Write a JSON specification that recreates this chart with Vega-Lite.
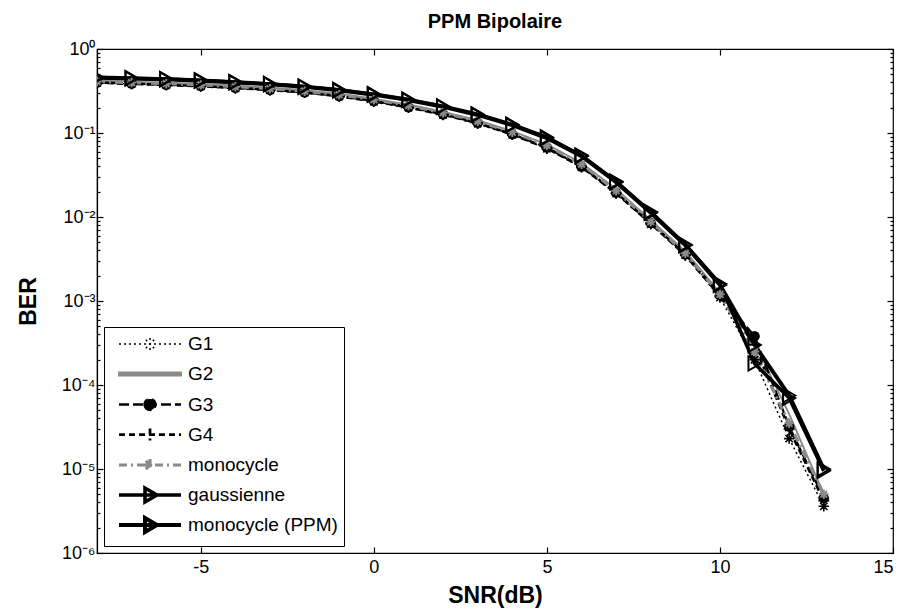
{
  "$schema": "https://vega.github.io/schema/vega-lite/v6.json",
  "width": 796,
  "height": 504,
  "autosize": {"type": "none"},
  "padding": {"left": 97, "top": 49, "right": 11, "bottom": 59},
  "background": "white",
  "title": {"text": "PPM Bipolaire", "fontSize": 20, "font": "Liberation Sans", "fontWeight": "bold", "color": "black", "offset": 8},
  "config": {
    "view": {"stroke": "black", "strokeWidth": 1.2},
    "axis": {"domainColor": "black", "tickColor": "black", "labelColor": "black", "titleColor": "black", "labelFont": "Liberation Sans", "titleFont": "Liberation Sans", "labelFontSize": 18, "titleFontSize": 23, "titleFontWeight": "bold", "grid": false, "tickSize": -6, "tickWidth": 1.2, "domainWidth": 1.2}
  },
  "data": {"values": [
    {"snr": -8, "ber": 0.395, "s": "G1"}, {"snr": -7, "ber": 0.383, "s": "G1"}, {"snr": -6, "ber": 0.372, "s": "G1"}, {"snr": -5, "ber": 0.36, "s": "G1"}, {"snr": -4, "ber": 0.342, "s": "G1"}, {"snr": -3, "ber": 0.323, "s": "G1"}, {"snr": -2, "ber": 0.302, "s": "G1"}, {"snr": -1, "ber": 0.272, "s": "G1"}, {"snr": 0, "ber": 0.236, "s": "G1"}, {"snr": 1, "ber": 0.2, "s": "G1"}, {"snr": 2, "ber": 0.164, "s": "G1"}, {"snr": 3, "ber": 0.129, "s": "G1"}, {"snr": 4, "ber": 0.095, "s": "G1"}, {"snr": 5, "ber": 0.065, "s": "G1"}, {"snr": 6, "ber": 0.039, "s": "G1"}, {"snr": 7, "ber": 0.019, "s": "G1"}, {"snr": 8, "ber": 0.0082, "s": "G1"}, {"snr": 9, "ber": 0.0035, "s": "G1"}, {"snr": 10, "ber": 0.0011, "s": "G1"}, {"snr": 11, "ber": 0.0002, "s": "G1"}, {"snr": 12, "ber": 0.000023, "s": "G1"}, {"snr": 13, "ber": 0.0000036, "s": "G1"},
    {"snr": -8, "ber": 0.42, "s": "G2"}, {"snr": -7, "ber": 0.408, "s": "G2"}, {"snr": -6, "ber": 0.397, "s": "G2"}, {"snr": -5, "ber": 0.384, "s": "G2"}, {"snr": -4, "ber": 0.366, "s": "G2"}, {"snr": -3, "ber": 0.346, "s": "G2"}, {"snr": -2, "ber": 0.324, "s": "G2"}, {"snr": -1, "ber": 0.293, "s": "G2"}, {"snr": 0, "ber": 0.256, "s": "G2"}, {"snr": 1, "ber": 0.218, "s": "G2"}, {"snr": 2, "ber": 0.179, "s": "G2"}, {"snr": 3, "ber": 0.142, "s": "G2"}, {"snr": 4, "ber": 0.105, "s": "G2"}, {"snr": 5, "ber": 0.073, "s": "G2"}, {"snr": 6, "ber": 0.044, "s": "G2"}, {"snr": 7, "ber": 0.0215, "s": "G2"}, {"snr": 8, "ber": 0.0092, "s": "G2"}, {"snr": 9, "ber": 0.0039, "s": "G2"}, {"snr": 10, "ber": 0.00125, "s": "G2"}, {"snr": 11, "ber": 0.00032, "s": "G2"}, {"snr": 12, "ber": 0.000045, "s": "G2"}, {"snr": 13, "ber": 0.000005, "s": "G2"},
    {"snr": -8, "ber": 0.4, "s": "G3"}, {"snr": -7, "ber": 0.387, "s": "G3"}, {"snr": -6, "ber": 0.376, "s": "G3"}, {"snr": -5, "ber": 0.362, "s": "G3"}, {"snr": -4, "ber": 0.345, "s": "G3"}, {"snr": -3, "ber": 0.326, "s": "G3"}, {"snr": -2, "ber": 0.305, "s": "G3"}, {"snr": -1, "ber": 0.275, "s": "G3"}, {"snr": 0, "ber": 0.24, "s": "G3"}, {"snr": 1, "ber": 0.204, "s": "G3"}, {"snr": 2, "ber": 0.167, "s": "G3"}, {"snr": 3, "ber": 0.132, "s": "G3"}, {"snr": 4, "ber": 0.097, "s": "G3"}, {"snr": 5, "ber": 0.067, "s": "G3"}, {"snr": 6, "ber": 0.04, "s": "G3"}, {"snr": 7, "ber": 0.0195, "s": "G3"}, {"snr": 8, "ber": 0.0085, "s": "G3"}, {"snr": 9, "ber": 0.0036, "s": "G3"}, {"snr": 10, "ber": 0.00118, "s": "G3"}, {"snr": 11, "ber": 0.00038, "s": "G3"}, {"snr": 12, "ber": 0.000032, "s": "G3"}, {"snr": 13, "ber": 0.0000045, "s": "G3"},
    {"snr": -8, "ber": 0.398, "s": "G4"}, {"snr": -7, "ber": 0.385, "s": "G4"}, {"snr": -6, "ber": 0.374, "s": "G4"}, {"snr": -5, "ber": 0.361, "s": "G4"}, {"snr": -4, "ber": 0.344, "s": "G4"}, {"snr": -3, "ber": 0.325, "s": "G4"}, {"snr": -2, "ber": 0.304, "s": "G4"}, {"snr": -1, "ber": 0.274, "s": "G4"}, {"snr": 0, "ber": 0.238, "s": "G4"}, {"snr": 1, "ber": 0.202, "s": "G4"}, {"snr": 2, "ber": 0.166, "s": "G4"}, {"snr": 3, "ber": 0.131, "s": "G4"}, {"snr": 4, "ber": 0.096, "s": "G4"}, {"snr": 5, "ber": 0.066, "s": "G4"}, {"snr": 6, "ber": 0.0395, "s": "G4"}, {"snr": 7, "ber": 0.0192, "s": "G4"}, {"snr": 8, "ber": 0.0084, "s": "G4"}, {"snr": 9, "ber": 0.0035, "s": "G4"}, {"snr": 10, "ber": 0.00115, "s": "G4"}, {"snr": 11, "ber": 0.0003, "s": "G4"}, {"snr": 12, "ber": 0.00003, "s": "G4"}, {"snr": 13, "ber": 0.0000042, "s": "G4"},
    {"snr": -8, "ber": 0.41, "s": "monocycle"}, {"snr": -7, "ber": 0.398, "s": "monocycle"}, {"snr": -6, "ber": 0.387, "s": "monocycle"}, {"snr": -5, "ber": 0.374, "s": "monocycle"}, {"snr": -4, "ber": 0.356, "s": "monocycle"}, {"snr": -3, "ber": 0.337, "s": "monocycle"}, {"snr": -2, "ber": 0.315, "s": "monocycle"}, {"snr": -1, "ber": 0.285, "s": "monocycle"}, {"snr": 0, "ber": 0.249, "s": "monocycle"}, {"snr": 1, "ber": 0.212, "s": "monocycle"}, {"snr": 2, "ber": 0.174, "s": "monocycle"}, {"snr": 3, "ber": 0.138, "s": "monocycle"}, {"snr": 4, "ber": 0.102, "s": "monocycle"}, {"snr": 5, "ber": 0.071, "s": "monocycle"}, {"snr": 6, "ber": 0.0425, "s": "monocycle"}, {"snr": 7, "ber": 0.0205, "s": "monocycle"}, {"snr": 8, "ber": 0.0088, "s": "monocycle"}, {"snr": 9, "ber": 0.0037, "s": "monocycle"}, {"snr": 10, "ber": 0.0012, "s": "monocycle"}, {"snr": 11, "ber": 0.00025, "s": "monocycle"}, {"snr": 12, "ber": 0.000035, "s": "monocycle"}, {"snr": 13, "ber": 0.000005, "s": "monocycle"},
    {"snr": -8, "ber": 0.46, "s": "gaussienne"}, {"snr": -7, "ber": 0.45, "s": "gaussienne"}, {"snr": -6, "ber": 0.44, "s": "gaussienne"}, {"snr": -5, "ber": 0.425, "s": "gaussienne"}, {"snr": -4, "ber": 0.405, "s": "gaussienne"}, {"snr": -3, "ber": 0.384, "s": "gaussienne"}, {"snr": -2, "ber": 0.358, "s": "gaussienne"}, {"snr": -1, "ber": 0.326, "s": "gaussienne"}, {"snr": 0, "ber": 0.29, "s": "gaussienne"}, {"snr": 1, "ber": 0.25, "s": "gaussienne"}, {"snr": 2, "ber": 0.208, "s": "gaussienne"}, {"snr": 3, "ber": 0.167, "s": "gaussienne"}, {"snr": 4, "ber": 0.126, "s": "gaussienne"}, {"snr": 5, "ber": 0.089, "s": "gaussienne"}, {"snr": 6, "ber": 0.054, "s": "gaussienne"}, {"snr": 7, "ber": 0.0265, "s": "gaussienne"}, {"snr": 8, "ber": 0.0115, "s": "gaussienne"}, {"snr": 9, "ber": 0.0047, "s": "gaussienne"}, {"snr": 10, "ber": 0.0016, "s": "gaussienne"}, {"snr": 11, "ber": 0.00018, "s": "gaussienne"}, {"snr": 12, "ber": 0.00007, "s": "gaussienne"}, {"snr": 13, "ber": 0.0000095, "s": "gaussienne"},
    {"snr": -8, "ber": 0.455, "s": "monocycle (PPM)"}, {"snr": -7, "ber": 0.445, "s": "monocycle (PPM)"}, {"snr": -6, "ber": 0.435, "s": "monocycle (PPM)"}, {"snr": -5, "ber": 0.42, "s": "monocycle (PPM)"}, {"snr": -4, "ber": 0.4, "s": "monocycle (PPM)"}, {"snr": -3, "ber": 0.38, "s": "monocycle (PPM)"}, {"snr": -2, "ber": 0.354, "s": "monocycle (PPM)"}, {"snr": -1, "ber": 0.322, "s": "monocycle (PPM)"}, {"snr": 0, "ber": 0.286, "s": "monocycle (PPM)"}, {"snr": 1, "ber": 0.247, "s": "monocycle (PPM)"}, {"snr": 2, "ber": 0.205, "s": "monocycle (PPM)"}, {"snr": 3, "ber": 0.164, "s": "monocycle (PPM)"}, {"snr": 4, "ber": 0.124, "s": "monocycle (PPM)"}, {"snr": 5, "ber": 0.087, "s": "monocycle (PPM)"}, {"snr": 6, "ber": 0.053, "s": "monocycle (PPM)"}, {"snr": 7, "ber": 0.026, "s": "monocycle (PPM)"}, {"snr": 8, "ber": 0.0112, "s": "monocycle (PPM)"}, {"snr": 9, "ber": 0.0046, "s": "monocycle (PPM)"}, {"snr": 10, "ber": 0.00155, "s": "monocycle (PPM)"}, {"snr": 11, "ber": 0.0003, "s": "monocycle (PPM)"}, {"snr": 12, "ber": 0.000075, "s": "monocycle (PPM)"}, {"snr": 13, "ber": 0.00001, "s": "monocycle (PPM)"}
  ]},
  "resolve": {"axis": {"x": "independent", "y": "independent"}},
  "layer": [
    {
      "mark": {"type": "line", "clip": true},
      "encoding": {
        "x": {"field": "snr", "type": "quantitative", "scale": {"domain": [-8, 15], "nice": false, "zero": false},
              "axis": {"values": [-5, 0, 5, 10, 15], "title": "SNR(dB)", "labelExpr": "datum.value + ''", "labelPadding": 11, "titlePadding": 8}},
        "y": {"field": "ber", "type": "quantitative", "scale": {"type": "log", "domain": [0.000001, 1], "nice": false},
              "axis": {"values": [0.000001, 0.00001, 0.0001, 0.001, 0.01, 0.1, 1], "title": "BER", "labelExpr": "['10⁰','10⁻¹','10⁻²','10⁻³','10⁻⁴','10⁻⁵','10⁻⁶'][round(-log(datum.value)/LN10)]", "labelPadding": 8, "titlePadding": 21}},
        "color": {"field": "s", "type": "nominal",
                  "scale": {"domain": ["G1", "G2", "G3", "G4", "monocycle", "gaussienne", "monocycle (PPM)"], "range": ["black", "#8a8a8a", "black", "black", "#8a8a8a", "black", "black"]},
                  "legend": {"orient": "bottom-left", "offset": 7, "title": null, "strokeColor": "black", "fillColor": "white", "padding": 6, "gridAlign": "all",
                             "labelFont": "Liberation Sans", "labelFontSize": 19, "labelColor": "black", "symbolSize": 400, "labelOffset": 54, "rowPadding": 0, "labelLimit": 400, "symbolOpacity": 1,
                             "encode": {"symbols": {
                               "enter": {
                                 "size": {"value": 400},
                                 "strokeWidth": {"signal": "datum.value === 'G2' ? 1 : datum.value === 'monocycle' ? 4 : datum.value === 'G3' ? 3 : datum.value === 'gaussienne' || datum.value === 'monocycle (PPM)' ? 2.5 : 1.5"}
                               },
                               "update": {
                               "size": {"value": 400},
                               "shape": {"signal": "datum.value === 'G1' || datum.value === 'monocycle' ? 'M-0.3,0H5.9M2.2,0H3.4M2.8,-0.6V0.6M2.38,-0.42L3.22,0.42M2.38,0.42L3.22,-0.42' : datum.value === 'G3' ? 'M-0.3,0H5.9M2.25,0A0.55,0.55 0 1,0 3.35,0A0.55,0.55 0 1,0 2.25,0Z' : datum.value === 'G4' ? 'M-0.3,0H5.9M2.8,-0.6V0.6' : datum.value === 'G2' ? 'M-0.3,-0.15H5.9V0.15H-0.3Z' : 'M-0.3,0H5.9M2.3,-0.7L3.5,0L2.3,0.7Z'"},
                               "fill": {"signal": "datum.value === 'G3' ? 'black' : datum.value === 'G2' ? '#8a8a8a' : datum.value === 'gaussienne' || datum.value === 'monocycle (PPM)' ? 'white' : 'transparent'"},
                               "strokeWidth": {"signal": "datum.value === 'G2' ? 1 : datum.value === 'monocycle' ? 4 : datum.value === 'G3' ? 3 : datum.value === 'gaussienne' || datum.value === 'monocycle (PPM)' ? 2.5 : 1.5"}
                             }}}}},
        "strokeDash": {"field": "s", "type": "nominal",
                       "scale": {"domain": ["G1", "G2", "G3", "G4", "monocycle", "gaussienne", "monocycle (PPM)"], "range": [[2, 3], [40, 0], [10, 4], [6, 4], [8, 4, 2, 4], [40, 0], [40, 0]]}},
        "strokeWidth": {"field": "s", "type": "nominal", "legend": null,
                        "scale": {"domain": ["G1", "G2", "G3", "G4", "monocycle", "gaussienne", "monocycle (PPM)"], "range": [1.5, 4, 3, 1.5, 4, 2.5, 2.5]}}
      }
    },
    {
      "transform": [{"filter": "datum.s === 'G1'"}],
      "mark": {"type": "point", "shape": "M-1,0H1M0,-1V1M-0.7,-0.7L0.7,0.7M-0.7,0.7L0.7,-0.7", "size": 110, "filled": false, "stroke": "black", "strokeWidth": 1.6, "opacity": 1, "clip": true},
      "encoding": {
        "x": {"field": "snr", "type": "quantitative", "axis": {"orient": "top", "values": [-5, 0, 5, 10, 15], "labels": false, "domain": false, "title": null}},
        "y": {"field": "ber", "type": "quantitative", "axis": {"orient": "right", "values": [0.000001, 0.00001, 0.0001, 0.001, 0.01, 0.1, 1], "labels": false, "domain": false, "title": null}}
      }
    },
    {
      "transform": [{"filter": "datum.s === 'G3'"}],
      "mark": {"type": "point", "shape": "circle", "size": 110, "filled": true, "fill": "black", "opacity": 1, "clip": true},
      "encoding": {
        "x": {"field": "snr", "type": "quantitative", "axis": null},
        "y": {"field": "ber", "type": "quantitative", "axis": {"orient": "left", "values": [0.000002, 0.000003, 0.000004, 0.000005, 0.000006, 0.000007, 0.000008, 0.000009, 0.00002, 0.00003, 0.00004, 0.00005, 0.00006, 0.00007, 0.00008, 0.00009, 0.0002, 0.0003, 0.0004, 0.0005, 0.0006, 0.0007, 0.0008, 0.0009, 0.002, 0.003, 0.004, 0.005, 0.006, 0.007, 0.008, 0.009, 0.02, 0.03, 0.04, 0.05, 0.06, 0.07, 0.08, 0.09, 0.2, 0.3, 0.4, 0.5, 0.6, 0.7, 0.8, 0.9], "labels": false, "domain": false, "title": null, "tickSize": -3}}
      }
    },
    {
      "transform": [{"filter": "datum.s === 'G4'"}],
      "mark": {"type": "point", "shape": "M-1,0H1M0,-1V1", "size": 120, "filled": false, "stroke": "black", "strokeWidth": 1.6, "opacity": 1, "clip": true},
      "encoding": {
        "x": {"field": "snr", "type": "quantitative", "axis": null},
        "y": {"field": "ber", "type": "quantitative", "axis": {"orient": "right", "values": [0.000002, 0.000003, 0.000004, 0.000005, 0.000006, 0.000007, 0.000008, 0.000009, 0.00002, 0.00003, 0.00004, 0.00005, 0.00006, 0.00007, 0.00008, 0.00009, 0.0002, 0.0003, 0.0004, 0.0005, 0.0006, 0.0007, 0.0008, 0.0009, 0.002, 0.003, 0.004, 0.005, 0.006, 0.007, 0.008, 0.009, 0.02, 0.03, 0.04, 0.05, 0.06, 0.07, 0.08, 0.09, 0.2, 0.3, 0.4, 0.5, 0.6, 0.7, 0.8, 0.9], "labels": false, "domain": false, "title": null, "tickSize": -3}}
      }
    },
    {
      "transform": [{"filter": "datum.s === 'monocycle'"}],
      "mark": {"type": "point", "shape": "M-1,0H1M0,-1V1M-0.7,-0.7L0.7,0.7M-0.7,0.7L0.7,-0.7", "size": 90, "filled": false, "stroke": "#8a8a8a", "strokeWidth": 2, "opacity": 1, "clip": true},
      "encoding": {
        "x": {"field": "snr", "type": "quantitative", "axis": null},
        "y": {"field": "ber", "type": "quantitative", "axis": null}
      }
    },
    {
      "transform": [{"filter": "datum.s === 'gaussienne' || datum.s === 'monocycle (PPM)'"}],
      "mark": {"type": "point", "shape": "triangle-right", "size": 200, "filled": false, "stroke": "black", "strokeWidth": 2, "opacity": 1, "clip": true},
      "encoding": {
        "x": {"field": "snr", "type": "quantitative", "axis": null},
        "y": {"field": "ber", "type": "quantitative", "axis": null}
      }
    }
  ]
}
